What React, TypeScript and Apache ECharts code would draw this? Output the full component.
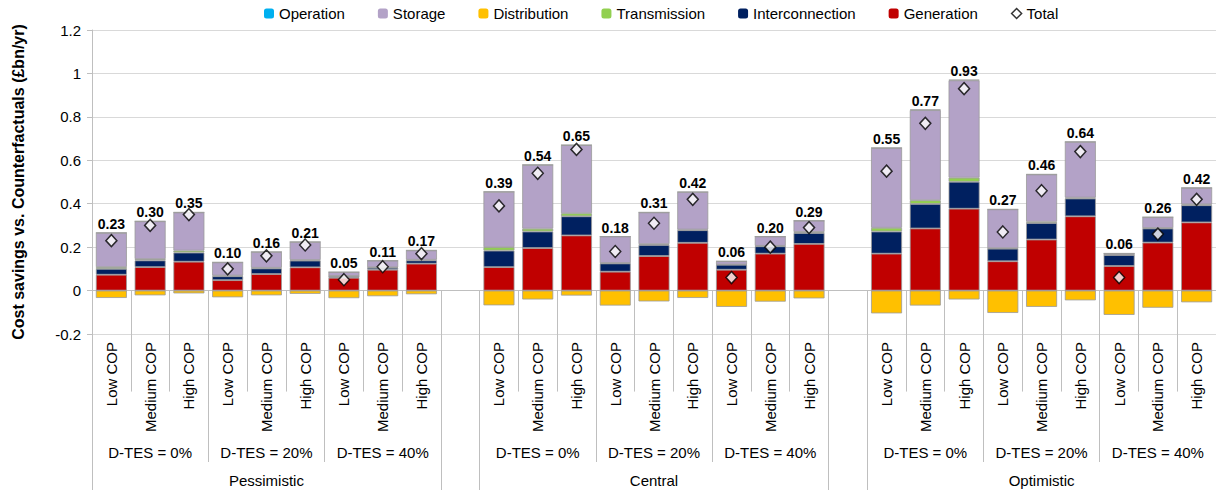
import React, { useEffect, useRef } from 'react';
import * as echarts from 'echarts';

const scenarios = ['Pessimistic', 'Central', 'Optimistic'];
const dtesLevels = ['D-TES = 0%', 'D-TES = 20%', 'D-TES = 40%'];
const copLevels = ['Low COP', 'Medium COP', 'High COP'];

// 27 bars, ordered scenario > D-TES > COP (£bn/yr)
const generation = [
  0.073, 0.108, 0.133, 0.048, 0.076, 0.107, 0.059, 0.096, 0.124,
  0.108, 0.196, 0.254, 0.087, 0.159, 0.220, 0.096, 0.170, 0.215,
  0.170, 0.286, 0.377, 0.135, 0.235, 0.342, 0.113, 0.221, 0.314,
];
const interconnection = [
  0.027, 0.031, 0.042, 0.018, 0.026, 0.031, 0.007, 0.009, 0.015,
  0.076, 0.076, 0.088, 0.038, 0.051, 0.058, 0.023, 0.034, 0.050,
  0.102, 0.113, 0.124, 0.058, 0.076, 0.082, 0.051, 0.065, 0.079,
];
const transmission = [
  0.008, 0.006, 0.009, 0.003, 0.003, 0.003, 0.001, 0.002, 0.003,
  0.016, 0.013, 0.014, 0.002, 0.004, 0.003, 0.001, 0.002, 0.005,
  0.017, 0.017, 0.019, 0.002, 0.006, 0.004, 0.001, 0.002, 0.004,
];
const storage = [
  0.158, 0.174, 0.176, 0.061, 0.073, 0.083, 0.018, 0.031, 0.043,
  0.255, 0.294, 0.314, 0.122, 0.146, 0.173, 0.015, 0.043, 0.052,
  0.368, 0.415, 0.448, 0.179, 0.218, 0.257, 0.006, 0.050, 0.076,
];
const operation = [
  0, 0, 0, 0, 0, 0, 0, 0, 0,
  0, 0, 0, 0, 0, 0, 0, 0, 0,
  0, 0.003, 0.003, 0, 0, 0, 0, 0, 0,
];
const distribution = [
  -0.034, -0.022, -0.013, -0.031, -0.022, -0.015, -0.035, -0.026, -0.017,
  -0.068, -0.041, -0.023, -0.069, -0.050, -0.034, -0.075, -0.051, -0.036,
  -0.105, -0.069, -0.041, -0.103, -0.075, -0.045, -0.112, -0.079, -0.054,
];
const totals = [
  0.23, 0.30, 0.35, 0.10, 0.16, 0.21, 0.05, 0.11, 0.17,
  0.39, 0.54, 0.65, 0.18, 0.31, 0.42, 0.06, 0.20, 0.29,
  0.55, 0.77, 0.93, 0.27, 0.46, 0.64, 0.06, 0.26, 0.42,
];

const yTicks = { min: -0.2, max: 1.2, interval: 0.2 };

const FONT = "'Liberation Sans', Arial, sans-serif";

// Build the 29-slot multi-level category axis (one empty slot between scenarios)
const copCats: string[] = [];
const dtesCats: string[] = [];
const scenCats: string[] = [];
const dtesBounds = new Set<number>();
const scenBounds = new Set<number>();
scenarios.forEach((s, si) => {
  scenBounds.add(copCats.length);
  dtesBounds.add(copCats.length);
  dtesLevels.forEach((d, di) => {
    dtesBounds.add(copCats.length);
    copLevels.forEach((c, ci) => {
      copCats.push(c);
      dtesCats.push(ci === 1 ? d : '');
      scenCats.push(di === 1 && ci === 1 ? s : '');
    });
  });
  if (si < scenarios.length - 1) {
    scenBounds.add(copCats.length);
    dtesBounds.add(copCats.length);
    copCats.push('');
    dtesCats.push('');
    scenCats.push('');
  }
});

function toSlots(arr: (number | null)[]): (number | null)[] {
  const out: (number | null)[] = [];
  arr.forEach((v, i) => {
    out.push(v);
    if ((i + 1) % 9 === 0 && i < arr.length - 1) out.push(null);
  });
  return out;
}

const totalSlots = toSlots(totals);

export default function App() {
  const ref = useRef<HTMLDivElement>(null);
  useEffect(() => {
    if (!ref.current) return;
    const chart = echarts.init(ref.current, undefined, { renderer: 'svg' });
    const border = { borderColor: '#9a9a9a', borderWidth: 0.8 };
    const barBase = {
      type: 'bar',
      stack: 'cost',
      barWidth: 31,
      xAxisIndex: 0,
      yAxisIndex: 0,
    };
    const tickLine = { color: '#bfbfbf', width: 1 };
    const option: any = {
      animation: false,
      textStyle: { fontFamily: FONT },
      legend: {
        left: 259,
        top: 1,
        itemWidth: 10,
        itemHeight: 10,
        itemGap: 33,
        textStyle: { fontSize: 15, color: '#000', fontFamily: FONT },
        data: [
          { name: 'Operation', itemStyle: { borderWidth: 0 } },
          { name: 'Storage', itemStyle: { borderWidth: 0 } },
          { name: 'Distribution', itemStyle: { borderWidth: 0 } },
          { name: 'Transmission', itemStyle: { borderWidth: 0 } },
          { name: 'Interconnection', itemStyle: { borderWidth: 0 } },
          { name: 'Generation', itemStyle: { borderWidth: 0 } },
          { name: 'Total', icon: 'diamond', itemStyle: { color: '#fff', borderColor: '#000', borderWidth: 1.5 } },
        ],
      },
      grid: { left: 92, right: -3, top: 30, bottom: 156, containLabel: false },
      xAxis: [
        {
          type: 'category',
          data: copCats,
          position: 'bottom',
          axisLine: { show: true, lineStyle: { color: '#bfbfbf' } },
          axisTick: { show: true, interval: 0, length: 101, lineStyle: tickLine },
          axisLabel: { interval: 0, rotate: 90, margin: 8, fontSize: 15, color: '#000', fontFamily: FONT },
          splitLine: { show: false },
        },
        {
          type: 'category',
          data: dtesCats,
          position: 'bottom',
          axisLine: { show: false },
          axisTick: { show: true, interval: (i: number) => dtesBounds.has(i), length: 128, lineStyle: tickLine },
          axisLabel: { interval: 0, margin: 111, fontSize: 15, color: '#000', fontFamily: FONT },
          splitLine: { show: false },
        },
        {
          type: 'category',
          data: scenCats,
          position: 'bottom',
          axisLine: { show: false },
          axisTick: { show: true, interval: (i: number) => scenBounds.has(i), length: 160, lineStyle: tickLine },
          axisLabel: { interval: 0, margin: 139, fontSize: 15, color: '#000', fontFamily: FONT },
          splitLine: { show: false },
        },
      ],
      yAxis: {
        type: 'value',
        min: yTicks.min,
        max: yTicks.max,
        interval: yTicks.interval,
        name: 'Cost savings vs. Counterfactuals (£bn/yr)',
        nameLocation: 'middle',
        nameGap: 66,
        nameTextStyle: { fontSize: 16, fontWeight: 'bold', color: '#000', fontFamily: FONT },
        axisLine: { show: true, lineStyle: { color: '#bfbfbf' } },
        axisTick: { show: true, length: 5, lineStyle: { color: '#bfbfbf' } },
        axisLabel: {
          fontSize: 15,
          color: '#000',
          margin: 11,
          fontFamily: FONT,
          formatter: (v: number) => String(parseFloat(v.toFixed(2))),
        },
        splitLine: { show: true, lineStyle: { color: '#d9d9d9' } },
      },
      series: [
        { ...barBase, name: 'Generation', data: toSlots(generation), itemStyle: { color: '#c00000', ...border } },
        { ...barBase, name: 'Interconnection', data: toSlots(interconnection), itemStyle: { color: '#002060', ...border } },
        { ...barBase, name: 'Transmission', data: toSlots(transmission), itemStyle: { color: '#92d050', ...border } },
        {
          ...barBase,
          name: 'Storage',
          data: toSlots(storage),
          itemStyle: { color: '#b3a2c7', ...border },
          label: {
            show: true,
            position: 'top',
            distance: 2,
            fontSize: 14,
            fontWeight: 'bold',
            color: '#000',
            fontFamily: FONT,
            formatter: (p: any) => {
              const t = totalSlots[p.dataIndex];
              return t == null ? '' : t.toFixed(2);
            },
          },
        },
        { ...barBase, name: 'Operation', data: toSlots(operation), itemStyle: { color: '#00b0f0', ...border } },
        { ...barBase, name: 'Distribution', data: toSlots(distribution), itemStyle: { color: '#ffc000', ...border } },
        {
          type: 'scatter',
          name: 'Total',
          xAxisIndex: 0,
          yAxisIndex: 0,
          data: totalSlots,
          symbol: 'diamond',
          symbolSize: [11, 12],
          itemStyle: { color: '#fff', borderColor: '#000', borderWidth: 1.5 },
          z: 5,
        },
      ],
    };
    chart.setOption(option);
    return () => chart.dispose();
  }, []);
  return (
    <div
      ref={ref}
      style={{ position: 'absolute', left: 0, top: 0, width: 1216, height: 490 }}
    />
  );
}
